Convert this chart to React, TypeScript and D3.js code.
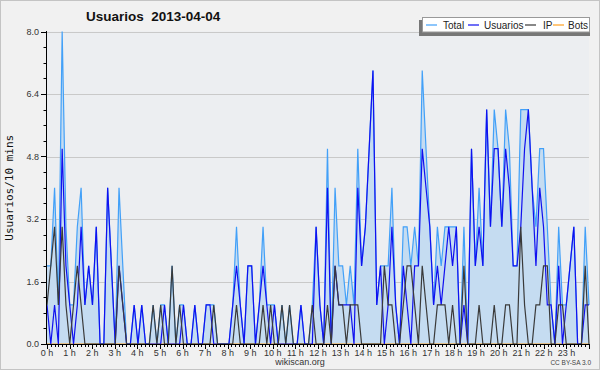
import React from 'react';
import * as d3 from 'd3';

// 10-minute slots over the day (144 slots)
const usuarios = [
  1, 0, 1, 0, 5, 2, 1, 0, 1, 3,
  1, 2, 1, 3, 0, 0, 4, 2, 0, 2,
  1, 0, 0, 1, 0, 1, 0, 0, 0, 0,
  0, 1, 0, 0, 0, 0, 1, 0, 0, 1,
  0, 0, 1, 1, 0, 0, 0, 0, 0, 1,
  2, 1, 0, 2, 2, 0, 1, 2, 1, 0,
  1, 0, 0, 0, 0, 0, 0, 1, 0, 0,
  0, 3, 1, 0, 4, 0, 2, 1, 1, 1,
  1, 0, 4, 2, 3, 5, 7, 1, 2, 0,
  1, 3, 1, 0, 2, 1, 0, 2, 2, 5,
  4, 3, 1, 2, 1, 2, 3, 2, 3, 0,
  1, 0, 5, 2, 3, 2, 6, 3, 5, 5,
  3, 5, 4, 2, 2, 3, 5, 6, 4, 2,
  4, 3, 1, 1, 0, 2, 0, 1, 2, 3,
  0, 0, 1, 1,
];

const ip = [
  1, 2, 3, 1, 3, 1, 0, 1, 2, 1,
  0, 0, 0, 0, 0, 0, 0, 0, 0, 2,
  1, 0, 0, 0, 0, 0, 0, 0, 1, 0,
  1, 0, 0, 2, 0, 1, 0, 0, 0, 0,
  0, 0, 0, 0, 1, 0, 0, 0, 0, 0,
  1, 0, 0, 0, 0, 0, 0, 1, 0, 1,
  0, 0, 1, 0, 1, 0, 0, 0, 0, 0,
  1, 0, 0, 0, 1, 0, 2, 1, 1, 0,
  1, 1, 1, 0, 0, 0, 0, 0, 0, 2,
  1, 1, 0, 0, 1, 2, 2, 1, 0, 2,
  1, 0, 0, 1, 1, 1, 0, 1, 0, 0,
  2, 0, 0, 0, 1, 0, 0, 0, 1, 0,
  0, 1, 1, 0, 0, 3, 1, 0, 0, 1,
  1, 2, 2, 0, 0, 1, 1, 0, 0, 0,
  0, 0, 2, 0,
];

const bots = [
  0, 0, 0, 0, 0, 0, 0, 0, 0, 0,
  0, 0, 0, 0, 0, 0, 0, 0, 0, 0,
  0, 0, 0, 0, 0, 0, 0, 0, 0, 0,
  0, 0, 0, 0, 0, 0, 0, 0, 0, 0,
  0, 0, 0, 0, 0, 0, 0, 0, 0, 0,
  0, 0, 0, 0, 0, 0, 0, 0, 0, 0,
  0, 0, 0, 0, 0, 0, 0, 0, 0, 0,
  0, 0, 0, 0, 0, 0, 0, 0, 0, 0,
  0, 0, 0, 0, 0, 0, 0, 0, 0, 0,
  0, 0, 0, 0, 0, 0, 0, 0, 0, 0,
  0, 0, 0, 0, 0, 0, 0, 0, 0, 0,
  0, 0, 0, 0, 0, 0, 0, 0, 0, 0,
  0, 0, 0, 0, 0, 0, 0, 0, 0, 0,
  0, 0, 0, 0, 0, 0, 0, 0, 0, 0,
  0, 0, 0, 0,
];

const total = [
  2, 2, 4, 1, 8, 3, 1, 1, 3, 4,
  1, 2, 1, 3, 0, 0, 4, 2, 0, 4,
  2, 0, 0, 1, 0, 1, 0, 0, 1, 0,
  1, 1, 0, 2, 0, 1, 1, 0, 0, 1,
  0, 0, 1, 1, 1, 0, 0, 0, 0, 1,
  3, 1, 0, 2, 2, 0, 1, 3, 1, 1,
  1, 0, 1, 0, 1, 0, 0, 1, 0, 0,
  1, 3, 1, 0, 5, 0, 4, 2, 2, 1,
  2, 1, 5, 2, 3, 5, 7, 1, 2, 2,
  2, 4, 1, 0, 3, 3, 2, 3, 2, 7,
  5, 3, 1, 3, 2, 3, 3, 3, 3, 0,
  3, 0, 5, 2, 4, 2, 6, 3, 6, 5,
  3, 6, 5, 2, 2, 6, 6, 6, 4, 3,
  5, 5, 3, 1, 0, 3, 1, 1, 2, 3,
  0, 0, 3, 1,
];

const yTicks = [0, 1.6, 3.2, 4.8, 6.4, 8.0];
const hourLabels = d3.range(0, 24).map((h) => `${h} h`);
const legendItems = ['Total', 'Usuarios', 'IP', 'Bots'];
const title = 'Usuarios  2013-04-04';
const yTitle = 'Usuarios/10 mins';

const W = 600;
const H = 370;
const X0 = 47;
const X1 = 589;
const Y0 = 344;
const YT = 31.5;

const colors = { Total: '#42a0f8', Usuarios: '#1010f0', IP: '#3a3a3a', Bots: '#ffa020' };
const sans = '"Liberation Sans", Arial, sans-serif';

export default function App() {
  const x = d3.scaleLinear().domain([0, total.length - 1]).range([X0, X1]);
  const xh = d3.scaleLinear().domain([0, 24]).range([X0, X1]);
  const y = d3.scaleLinear().domain([0, 8]).range([Y0, YT]);

  const area = d3.area<number>().x((_, i) => x(i)).y0(Y0).y1((d) => y(d));
  const line = d3.line<number>().x((_, i) => x(i)).y((d) => y(d));

  const minorY = d3.range(0, 8.0001, 0.4);
  const minorX = d3.range(0, 24 * 6 + 1).map((k) => k / 6);

  // legend layout
  const legX = 422;
  const legY = 17;
  const legW = 167;
  const legH = 14.5;
  const legOffsets = [4, 46, 103, 131];
  const textOffsets = [21, 62, 121, 146];

  return (
    <div style={{ position: 'absolute', left: 0, top: 0 }}>
      <svg width={W} height={H} style={{ display: 'block' }}>
        <rect x={0.5} y={0.5} width={W - 1} height={H - 1} fill="#f1f1f1" stroke="#c4c4c4" />
        <rect x={X0 - 1} y={YT} width={X1 - X0 + 1} height={Y0 - YT} fill="#eceef1" />
        {yTicks.slice(1).map((t) => (
          <line key={t} x1={X0} x2={X1} y1={Math.round(y(t)) + 0.5} y2={Math.round(y(t)) + 0.5} stroke="#c9c9c9" />
        ))}
        <path d={area(total) || ''} fill="#c5dcf1" stroke="none" />
        <path d={line(bots) || ''} fill="none" stroke={colors.Bots} strokeWidth={1.2} />
        <path d={line(total) || ''} fill="none" stroke={colors.Total} strokeWidth={1.2} />
        <path d={line(usuarios) || ''} fill="none" stroke={colors.Usuarios} strokeWidth={1.2} />
        <path d={line(ip) || ''} fill="none" stroke={colors.IP} strokeWidth={1.2} />

        {/* y axis */}
        <line x1={X0 - 0.5} x2={X0 - 0.5} y1={YT - 0.5} y2={Y0 + 0.5} stroke="#000" />
        {minorY.map((t, i) => {
          const major = i % 4 === 0;
          const yy = Math.round(y(t)) + 0.5;
          return <line key={i} x1={X0 - (major ? 6 : 3.5)} x2={X0 - 0.5} y1={yy} y2={yy} stroke="#000" />;
        })}
        {yTicks.map((t) => (
          <text key={t} x={X0 - 8} y={y(t) + 3} fontSize={9} fontFamily={sans} fill="#333" textAnchor="end">
            {t.toFixed(1)}
          </text>
        ))}
        <text
          transform={`translate(13,${(Y0 + YT) / 2}) rotate(-90)`}
          fontSize={11}
          fontFamily='"DejaVu Sans Mono", monospace'
          fill="#111"
          textAnchor="middle"
        >
          {yTitle}
        </text>

        {/* x axis */}
        <line x1={X0 - 1} x2={X1} y1={Y0 + 0.5} y2={Y0 + 0.5} stroke="#000" />
        {minorX.map((h, i) => {
          const major = i % 6 === 0;
          const xx = Math.round(xh(h)) + 0.5;
          return <line key={i} x1={xx} x2={xx} y1={Y0} y2={Y0 + (major ? 5 : 3)} stroke="#000" />;
        })}
        {hourLabels.map((lab, h) => (
          <text key={lab} x={xh(h)} y={Y0 + 12} fontSize={9} fontFamily={sans} fill="#333" textAnchor="middle">
            {lab}
          </text>
        ))}
        <text x={300} y={365} fontSize={9} fontFamily={sans} fill="#333" textAnchor="middle">
          wikiscan.org
        </text>
        <text x={591} y={365} fontSize={6.5} fontFamily={sans} fill="#444" textAnchor="end">
          CC BY-SA 3.0
        </text>

        {/* title */}
        <text x={86} y={21} fontSize={13.5} fontWeight="bold" fontFamily={sans} fill="#111" style={{ whiteSpace: 'pre' }}>
          {title}
        </text>

        {/* legend */}
        <rect x={legX - 3} y={legY + 3} width={legW + 4} height={legH + 1.5} fill="#777" />
        <rect x={legX + 0.5} y={legY + 0.5} width={legW} height={legH} fill="#fff" stroke="#999" />
        {legendItems.map((name, i) => (
          <g key={name}>
            <line
              x1={legX + legOffsets[i]}
              x2={legX + legOffsets[i] + 11}
              y1={legY + 8}
              y2={legY + 8}
              stroke={colors[name as keyof typeof colors]}
              strokeWidth={1.2}
            />
            <text x={legX + textOffsets[i]} y={legY + 11.5} fontSize={10} fontFamily={sans} fill="#222">
              {name}
            </text>
          </g>
        ))}
      </svg>
    </div>
  );
}
